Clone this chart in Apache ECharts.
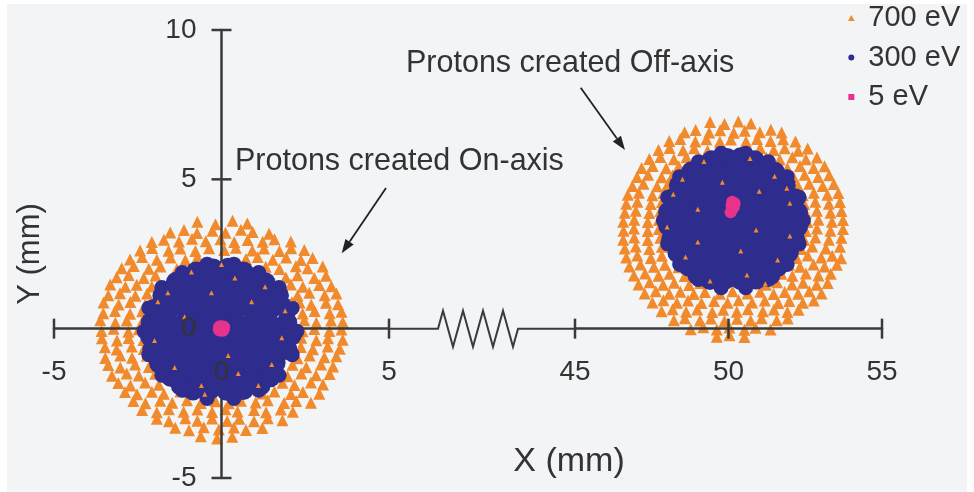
<!DOCTYPE html>
<html><head><meta charset="utf-8">
<script src="https://cdn.jsdelivr.net/npm/echarts@6/dist/echarts.min.js"></script>
<style>html,body{margin:0;padding:0;background:#fff}#c{width:974px;height:492px}</style>
</head><body><div id="c"></div>
<script>
// ---- tick values ----
const xTicksLeft = [-5, 0, 5];
const xTicksRight = [45, 50, 55];
const yTicks = [-5, 0, 5, 10];
const legendNames = ['700 eV', '300 eV', '5 eV'];

// ---- On-axis cluster (mm) ----
const onAxis700 = [
[-0.72,3.58],[-0.18,3.5],[0.33,3.61],[0.77,3.52],
[-1.53,3.22],[-1.12,3.3],[-0.73,3.2],[-0.27,3.28],[0.12,3.21],[0.58,3.31],[0.93,3.24],[1.42,3.18],
[-2.08,2.9],[-1.72,2.98],[-1.27,2.92],[-0.88,3.01],[-0.47,2.93],[-0.03,2.99],[0.38,2.9],[0.78,2.97],[1.23,2.91],[1.58,2.99],[2.07,2.92],
[-2.43,2.62],[-2.07,2.7],[-1.58,2.61],[-1.23,2.68],[-0.78,2.6],[-0.37,2.69],[0.08,2.63],[0.43,2.71],[0.92,2.62],[1.27,2.68],[1.73,2.6],[2.08,2.69],[2.47,2.63],
[-2.73,2.32],[-2.37,2.4],[-1.93,2.31],[-1.52,2.38],[-1.08,2.3],[-0.72,2.39],[0.73,2.33],[1.08,2.4],[1.53,2.31],[1.93,2.38],[2.37,2.3],[2.72,2.37],
[-2.98,2.02],[-2.62,2.1],[-2.17,2.01],[-1.82,2.08],[-1.33,2.0],[1.32,2.07],[1.73,2.0],[2.22,2.09],[2.57,2.02],[3.02,2.08],
[-3.13,1.72],[-2.77,1.8],[-2.32,1.7],[-1.97,1.78],[1.92,1.71],[2.27,1.79],[2.77,1.7],[3.12,1.77],
[-3.32,1.48],[-2.87,1.4],[-2.53,1.47],[-2.08,1.41],[2.07,1.48],[2.43,1.4],[2.92,1.46],[3.28,1.42],
[-3.38,1.12],[-3.03,1.19],[-2.57,1.1],[-2.22,1.18],[2.27,1.11],[2.62,1.2],[3.08,1.12],[3.43,1.18],
[-3.52,0.88],[-3.07,0.81],[-2.72,0.89],[-2.28,0.8],[2.33,0.88],[2.68,0.8],[3.12,0.87],[3.48,0.82],
[-3.53,0.52],[-3.18,0.59],[-2.73,0.5],[-2.37,0.58],[2.42,0.51],[2.78,0.59],[3.23,0.52],[3.58,0.57],
[-3.62,0.28],[-3.17,0.2],[-2.83,0.27],[-2.38,0.21],[2.47,0.28],[2.83,0.2],[3.27,0.27],[3.62,0.22],
[-3.58,-0.08],[-3.22,0.0],[-2.78,-0.1],[-2.47,-0.02],[2.42,-0.09],[2.77,-0.01],[3.22,-0.08],[3.58,-0.03],
[-3.57,-0.32],[-3.12,-0.4],[-2.77,-0.31],[-2.33,-0.38],[2.38,-0.3],[2.83,-0.39],[3.18,-0.32],[3.62,-0.37],
[-3.48,-0.62],[-3.13,-0.7],[-2.68,-0.6],[-2.32,-0.68],[2.37,-0.61],[2.73,-0.69],[3.17,-0.6],[3.53,-0.67],
[-3.47,-0.98],[-3.02,-0.9],[-2.67,-0.97],[-2.23,-0.91],[2.27,-0.99],[2.63,-0.9],[3.07,-0.96],[3.43,-0.92],
[-3.38,-1.22],[-3.02,-1.3],[-2.58,-1.2],[-2.17,-1.28],[2.12,-1.21],[2.53,-1.29],[2.97,-1.2],[3.33,-1.27],
[-3.27,-1.58],[-2.83,-1.5],[-2.47,-1.57],[-1.98,-1.51],[1.97,-1.59],[2.38,-1.5],[2.82,-1.56],[3.23,-1.52],
[-3.08,-1.82],[-2.72,-1.9],[-2.28,-1.8],[-1.87,-1.88],[1.82,-1.81],[2.18,-1.89],[2.67,-1.8],[3.03,-1.87],
[-2.88,-2.12],[-2.52,-2.2],[-2.08,-2.11],[-1.72,-2.18],[-1.23,-2.1],[1.22,-2.17],[1.58,-2.1],[2.07,-2.19],[2.43,-2.12],[2.92,-2.18],
[-2.63,-2.42],[-2.27,-2.5],[-1.83,-2.41],[-1.47,-2.48],[-1.03,-2.4],[-0.62,-2.49],[-0.18,-2.43],[0.22,-2.5],[0.58,-2.41],[1.02,-2.47],[1.38,-2.4],[1.87,-2.49],[2.23,-2.42],[2.67,-2.48],
[-2.37,-2.72],[-1.93,-2.8],[-1.57,-2.7],[-1.13,-2.78],[-0.72,-2.71],[-0.28,-2.79],[0.12,-2.7],[0.48,-2.77],[0.97,-2.72],[1.33,-2.8],[1.77,-2.71],[2.13,-2.78],
[-1.93,-3.02],[-1.57,-3.1],[-1.08,-3.0],[-0.72,-3.08],[-0.28,-3.01],[0.17,-3.09],[0.53,-3.02],[0.97,-3.1],[1.38,-3.0],[1.82,-3.07],
[-1.38,-3.32],[-0.97,-3.4],[-0.53,-3.3],[-0.08,-3.38],[0.37,-3.31],[0.73,-3.39],[1.22,-3.33],
[-0.62,-3.6],[-0.13,-3.68],[0.32,-3.62]
];
const onAxis700Inner = [
[-1.6,1.2],[-0.9,1.9],[0.4,1.7],[1.3,1.4],[1.9,0.6],[-2.0,-0.4],[-1.4,-1.3],[-0.6,-1.9],[0.5,-1.5],[1.5,-1.2],
[1.8,-0.3],[-1.1,0.4],[0.9,0.9],[-0.3,1.2],[0.2,-0.9],[-1.9,0.9],[2.1,1.0],[1.1,-1.9],[-0.5,-2.2],[0.0,2.15]
];
const onAxis300 = [
[-0.25,2.0],[0.2,2.02],[-0.75,1.9],[0.65,1.9],
[-1.35,1.55],[-0.9,1.57],[-0.45,1.54],[0.0,1.56],[0.45,1.55],[0.9,1.57],[1.3,1.54],
[-1.75,1.1],[-1.28,1.12],[-0.8,1.09],[-0.3,1.11],[0.2,1.1],[0.7,1.12],[1.2,1.09],[1.7,1.11],
[-2.0,0.65],[-1.55,0.67],[-1.05,0.64],[-0.55,0.66],[-0.05,0.65],[0.45,0.67],[0.95,0.64],[1.45,0.66],[1.95,0.65],
[-2.1,0.2],[-1.6,0.22],[-1.1,0.19],[-0.6,0.21],[-0.1,0.2],[0.4,0.22],[0.9,0.19],[1.4,0.21],[1.95,0.2],
[-2.12,-0.25],[-1.65,-0.23],[-1.15,-0.26],[-0.65,-0.24],[-0.15,-0.25],[0.35,-0.23],[0.85,-0.26],[1.35,-0.24],[1.85,-0.25],[2.08,-0.22],
[-2.05,-0.7],[-1.55,-0.68],[-1.05,-0.71],[-0.55,-0.69],[-0.05,-0.7],[0.45,-0.68],[0.95,-0.71],[1.45,-0.69],[1.95,-0.7],
[-1.85,-1.15],[-1.4,-1.13],[-0.9,-1.16],[-0.4,-1.14],[0.1,-1.15],[0.6,-1.13],[1.1,-1.16],[1.6,-1.14],
[-1.5,-1.6],[-1.05,-1.58],[-0.55,-1.61],[-0.05,-1.59],[0.45,-1.6],[0.95,-1.58],[1.45,-1.61],
[-1.2,-1.9],[1.15,-1.9],
[-0.85,-2.05],[-0.35,-2.03],[0.15,-2.06],[0.65,-2.04]
];
const onAxis300Rim = [
[2.25,-0.09],[2.11,0.69],[1.72,1.38],[1.11,1.88],[0.37,2.16],[-0.43,2.16],[-1.17,1.88],[-1.78,1.38],[-2.17,0.69],
[-2.31,-0.09],[-2.17,-0.87],[-1.78,-1.56],[-1.17,-2.06],[-0.43,-2.34],[0.37,-2.34],[1.11,-2.06],[1.72,-1.56],[2.11,-0.87]
];
const onAxis5 = [[-0.04,0.05],[0.05,0.04],[0.03,-0.04],[-0.05,-0.03]];

// ---- Off-axis cluster (mm) ----
const offAxis700 = [
[49.4,6.92],[49.87,6.85],[50.32,6.94],[50.73,6.87],
[48.57,6.58],[48.93,6.65],[49.37,6.57],[49.73,6.64],[50.17,6.56],[50.53,6.63],[51.02,6.58],[51.38,6.66],[51.73,6.57],
[48.07,6.28],[48.43,6.35],[48.92,6.27],[49.28,6.34],[49.72,6.26],[50.08,6.33],[50.57,6.27],[50.93,6.35],[51.37,6.28],[51.78,6.34],[52.18,6.27],
[47.72,5.98],[48.08,6.05],[48.52,5.97],[48.88,6.04],[49.32,5.96],[49.68,6.03],[50.67,5.97],[51.03,6.05],[51.47,5.98],[51.83,6.04],[52.27,5.96],[52.58,6.03],
[47.42,5.68],[47.78,5.75],[48.22,5.67],[48.63,5.74],[49.07,5.66],[51.23,5.73],[51.67,5.66],[52.08,5.74],[52.52,5.67],[52.88,5.73],
[47.17,5.38],[47.53,5.45],[47.97,5.37],[48.38,5.44],[51.92,5.37],[52.33,5.45],[52.77,5.38],[53.13,5.44],
[47.02,5.08],[47.38,5.15],[47.82,5.07],[48.18,5.14],[52.12,5.07],[52.48,5.15],[52.92,5.08],[53.28,5.14],
[46.87,4.78],[47.23,4.85],[47.67,4.77],[48.03,4.84],[52.27,4.77],[52.63,4.85],[53.07,4.78],[53.43,4.84],
[46.72,4.48],[47.08,4.55],[47.52,4.47],[47.88,4.54],[52.42,4.47],[52.78,4.55],[53.22,4.48],[53.58,4.54],
[46.67,4.18],[47.03,4.25],[47.47,4.17],[47.83,4.24],[52.47,4.17],[52.83,4.25],[53.27,4.18],[53.63,4.24],
[46.62,3.88],[46.98,3.95],[47.42,3.87],[47.78,3.94],[52.52,3.87],[52.88,3.95],[53.32,3.88],[53.68,3.94],
[46.57,3.58],[46.93,3.65],[47.37,3.57],[47.73,3.64],[52.57,3.57],[52.93,3.65],[53.37,3.58],[53.73,3.64],
[46.58,3.28],[46.92,3.35],[47.37,3.27],[47.73,3.34],[52.52,3.27],[52.88,3.35],[53.32,3.28],[53.73,3.34],
[46.57,2.98],[46.93,3.05],[47.37,2.97],[47.78,3.04],[52.47,2.97],[52.83,3.05],[53.27,2.98],[53.68,3.04],
[46.62,2.68],[46.98,2.75],[47.42,2.67],[47.83,2.74],[52.37,2.67],[52.73,2.75],[53.17,2.68],[53.63,2.74],
[46.67,2.38],[47.03,2.45],[47.47,2.37],[47.83,2.44],[52.22,2.37],[52.58,2.45],[53.02,2.38],[53.38,2.44],[53.67,2.36],
[46.77,2.08],[47.13,2.15],[47.57,2.07],[47.93,2.14],[48.37,2.06],[51.97,2.14],[52.33,2.07],[52.77,2.15],[53.13,2.08],[53.53,2.14],
[46.92,1.78],[47.28,1.85],[47.72,1.77],[48.08,1.84],[48.57,1.76],[51.72,1.84],[52.08,1.77],[52.52,1.85],[52.93,1.78],[53.33,1.84],
[47.07,1.48],[47.43,1.55],[47.87,1.47],[48.23,1.54],[48.72,1.46],[49.08,1.53],[51.22,1.47],[51.58,1.55],[52.07,1.48],[52.43,1.54],[52.87,1.47],[53.23,1.53],
[47.27,1.18],[47.63,1.25],[48.07,1.17],[48.43,1.24],[48.87,1.16],[49.23,1.23],[49.72,1.17],[50.13,1.25],[50.62,1.18],[51.03,1.24],[51.47,1.16],[51.83,1.23],[52.27,1.17],[52.63,1.25],[53.03,1.18],
[47.52,0.88],[47.88,0.95],[48.32,0.87],[48.68,0.94],[49.12,0.86],[49.53,0.93],[49.97,0.87],[50.33,0.95],[50.77,0.88],[51.18,0.94],[51.62,0.86],[51.98,0.93],[52.42,0.87],[52.78,0.94],
[47.82,0.58],[48.18,0.65],[48.62,0.57],[48.98,0.64],[49.47,0.56],[49.83,0.63],[50.27,0.57],[50.63,0.65],[51.12,0.58],[51.48,0.64],[51.92,0.56],[52.28,0.63],
[48.22,0.28],[48.58,0.35],[49.07,0.27],[49.43,0.34],[49.87,0.26],[50.28,0.33],[50.72,0.27],[51.08,0.35],[51.57,0.28],[51.93,0.34],
[48.77,-0.02],[49.18,0.05],[49.62,-0.03],[50.03,0.04],[50.52,-0.04],[50.88,0.03],[51.37,-0.03],
[49.62,-0.27],[50.03,-0.22],[50.52,-0.28]
];
const offAxis700Inner = [
[48.5,5.0],[49.2,5.6],[50.7,5.7],[51.5,5.1],[52.0,4.2],[48.0,3.4],[48.6,2.4],[49.4,1.6],[50.6,1.8],[51.6,2.3],
[52.0,3.1],[49.0,4.0],[51.0,4.6],[49.8,4.9],[50.4,2.6],[48.2,4.5],[51.9,4.7],[51.2,1.5],[49.0,2.9],[50.9,3.3]
];
const offAxis300 = [
[49.95,5.7],[50.4,5.72],[49.45,5.62],[50.85,5.62],
[48.8,5.25],[49.25,5.27],[49.7,5.24],[50.15,5.26],[50.6,5.25],[51.05,5.27],[51.5,5.24],
[48.4,4.8],[48.85,4.82],[49.35,4.79],[49.85,4.81],[50.35,4.8],[50.85,4.82],[51.35,4.79],[51.85,4.81],
[48.2,4.35],[48.7,4.37],[49.2,4.34],[49.7,4.36],[50.2,4.35],[50.7,4.37],[51.2,4.34],[51.7,4.36],[52.15,4.35],
[48.05,3.9],[48.55,3.92],[49.05,3.89],[49.55,3.91],[50.05,3.9],[50.55,3.92],[51.05,3.89],[51.55,3.91],[52.05,3.9],[52.25,3.88],
[48.05,3.45],[48.5,3.47],[49.0,3.44],[49.5,3.46],[50.0,3.45],[50.5,3.47],[51.0,3.44],[51.5,3.46],[52.0,3.45],[52.25,3.43],
[48.15,3.0],[48.65,3.02],[49.15,2.99],[49.65,3.01],[50.15,3.0],[50.65,3.02],[51.15,2.99],[51.65,3.01],[52.15,3.0],
[48.35,2.55],[48.85,2.57],[49.35,2.54],[49.85,2.56],[50.35,2.55],[50.85,2.57],[51.35,2.54],[51.95,2.56],
[48.7,2.1],[49.2,2.12],[49.7,2.09],[50.2,2.11],[50.7,2.1],[51.2,2.12],[51.6,2.09],
[49.0,1.8],[51.35,1.8],
[49.4,1.65],[49.9,1.67],[50.4,1.64],[50.9,1.66]
];
const offAxis300Rim = [
[52.44,3.62],[52.30,4.40],[51.91,5.09],[51.30,5.59],[50.56,5.87],[49.76,5.87],[49.02,5.59],[48.41,5.09],[48.02,4.40],
[47.88,3.62],[48.02,2.84],[48.41,2.15],[49.02,1.65],[49.76,1.37],[50.56,1.37],[51.30,1.65],[51.91,2.15],[52.30,2.84]
];
const offAxis5 = [[50.12,4.25],[50.2,4.2],[50.1,4.12],[50.18,4.08],[50.12,4.0],[50.07,3.9]];

// ---- styling / layout ----
const FONT = '"Liberation Sans", Arial, Helvetica, sans-serif';
const AX = '#3a3a3a';
const TXT = '#333333';
const ORANGE = '#f08a2c';
const BLUE = '#2e2d8e';
const PINK = '#e8338d';
const G0 = {left: 54, top: 30, width: 335, height: 448};
const G1 = {left: 575, top: 30, width: 307, height: 448};
const Y_MIN = -5, Y_MAX = 10;
const X0_MIN = -5, X0_MAX = 5;
// offsets so the axes sit on the zero lines
const xAxisOffset = -G0.height * (0 - Y_MIN) / (Y_MAX - Y_MIN);
const yAxisOffset = -G0.width * (0 - X0_MIN) / (X0_MAX - X0_MIN);

const chart = echarts.init(document.getElementById('c'), null, {renderer: 'canvas'});

function tickSeries(idx, values, horizontal) {
  return {
    type: 'custom', xAxisIndex: idx, yAxisIndex: idx, z: 3, silent: true, clip: false,
    data: values.map(v => horizontal ? [0, v] : [v, 0]),
    renderItem: function (params, api) {
      const p = api.coord([api.value(0), api.value(1)]);
      const h = 10;
      return {
        type: 'line',
        shape: horizontal ? {x1: p[0] - h, y1: p[1], x2: p[0] + h, y2: p[1]}
                          : {x1: p[0], y1: p[1] - h, x2: p[0], y2: p[1] + h},
        style: {stroke: AX, lineWidth: 2.5}
      };
    }
  };
}

const hideZero = v => (v === 0 ? '' : String(v));
const labelStyle = {fontSize: 28, color: TXT, fontFamily: FONT};
const lineStyle = {color: AX, width: 2.5};

function scatter(name, idx, data, symbol, size, color, z) {
  return {name, type: 'scatter', xAxisIndex: idx, yAxisIndex: idx, data, symbol, symbolSize: size,
    itemStyle: {color, opacity: 1}, z, silent: true, emphasis: {disabled: true}};
}

const option = {
  animation: false,
  backgroundColor: '#ffffff',
  textStyle: {fontFamily: FONT},
  grid: [
    Object.assign({containLabel: false, outerBoundsMode: 'none'}, G0),
    Object.assign({containLabel: false, outerBoundsMode: 'none'}, G1)
  ],
  xAxis: [
    {type: 'value', gridIndex: 0, min: X0_MIN, max: X0_MAX, interval: 5, z: 3,
     position: 'bottom', offset: xAxisOffset,
     axisLine: {onZero: false, lineStyle}, axisTick: {show: false}, splitLine: {show: false},
     axisLabel: Object.assign({margin: 30, formatter: hideZero}, labelStyle)},
    {type: 'value', gridIndex: 1, min: 45, max: 55, interval: 5, z: 3,
     position: 'bottom', offset: xAxisOffset,
     axisLine: {onZero: false, lineStyle}, axisTick: {show: false}, splitLine: {show: false},
     axisLabel: Object.assign({margin: 30}, labelStyle)}
  ],
  yAxis: [
    {type: 'value', gridIndex: 0, min: Y_MIN, max: Y_MAX, interval: 5, z: 3,
     position: 'left', offset: yAxisOffset,
     axisLine: {onZero: false, lineStyle}, axisTick: {show: false}, splitLine: {show: false},
     axisLabel: Object.assign({margin: 25, formatter: hideZero}, labelStyle),
     name: 'Y (mm)', nameLocation: 'middle', nameGap: 176,
     nameTextStyle: {fontSize: 31, color: TXT, fontFamily: FONT}},
    {type: 'value', gridIndex: 1, min: Y_MIN, max: Y_MAX, interval: 5, show: false}
  ],
  legend: {
    data: [
      {name: legendNames[0], icon: 'path://M5,0L10,9L0,9Z'},
      {name: legendNames[1], icon: 'path://M5,0A5,5,0,1,1,4.99,0Z'},
      {name: legendNames[2], icon: 'path://M0,0L10,0L10,10L0,10Z'}
    ],
    orient: 'vertical', left: 848, top: 3, padding: 0,
    itemWidth: 24, itemHeight: 6, itemGap: 9.5,
    symbolKeepAspect: true, selectedMode: false,
    textStyle: {fontSize: 29, lineHeight: 30, color: TXT, fontFamily: FONT}
  },
  series: [
    scatter(legendNames[0], 0, onAxis700, 'triangle', 12, ORANGE, 2),
    scatter(legendNames[0], 1, offAxis700, 'triangle', 12, ORANGE, 2),
    tickSeries(0, xTicksLeft, false),
    tickSeries(1, xTicksRight, false),
    tickSeries(0, yTicks, true),
    scatter(legendNames[1], 0, onAxis300, 'circle', 21, BLUE, 4),
    scatter(legendNames[1], 1, offAxis300, 'circle', 21, BLUE, 4),
    scatter(legendNames[1], 0, onAxis300Rim, 'circle', 15, BLUE, 4),
    scatter(legendNames[1], 1, offAxis300Rim, 'circle', 15, BLUE, 4),
    scatter(legendNames[0], 0, onAxis700Inner, 'triangle', 5, ORANGE, 5),
    scatter(legendNames[0], 1, offAxis700Inner, 'triangle', 5, ORANGE, 5),
    scatter(legendNames[2], 0, onAxis5, 'circle', 14, PINK, 6),
    scatter(legendNames[2], 1, offAxis5, 'circle', 12, PINK, 6)
  ]
};
chart.setOption(option);

// ---- decorations: panel, axis break, annotations ----
const o = chart.convertToPixel({gridIndex: 0}, [0, 0]);
const p5 = chart.convertToPixel({gridIndex: 0}, [5, 0]);
const p45 = chart.convertToPixel({gridIndex: 1}, [45, 0]);
const yb = p5[1], amp = 18;
const zz = [[p5[0], yb], [p5[0] + 49, yb]];
[0, 1, 2, 3].forEach(i => {
  const x0 = p5[0] + 54 + i * 20;
  zz.push([x0, yb - amp]);
  zz.push([x0 + 10, yb + amp]);
});
zz.push([p5[0] + 129, yb]);
zz.push([p45[0], yb]);

function arrow(start, tip) {
  const dx = tip[0] - start[0], dy = tip[1] - start[1];
  const L = Math.hypot(dx, dy), ux = dx / L, uy = dy / L;
  const hl = 14, hw = 5;
  const bx = tip[0] - hl * ux, by = tip[1] - hl * uy;
  return [
    {type: 'line', z: 8, silent: true, shape: {x1: start[0], y1: start[1], x2: bx, y2: by},
     style: {stroke: '#222', lineWidth: 1.8}},
    {type: 'polygon', z: 8, silent: true,
     shape: {points: [[tip[0], tip[1]], [bx + hw * uy, by - hw * ux], [bx - hw * uy, by + hw * ux]]},
     style: {fill: '#222'}}
  ];
}
function txt(text, x, y, size, align, valign, z) {
  return {type: 'text', x, y, z: z || 8, silent: true,
    style: {text, fill: TXT, font: size + 'px ' + FONT, fontSize: size, fontFamily: FONT,
            textAlign: align, align: align, textVerticalAlign: valign, verticalAlign: valign}};
}

chart.setOption({
  graphic: [
    {type: 'rect', z: -10, silent: true, shape: {x: 7, y: 4, width: 960, height: 488}, style: {fill: '#f3f4f6'}},
    {type: 'polyline', z: 3, silent: true, shape: {points: zz}, style: {stroke: AX, lineWidth: 2, fill: null}},
    txt('0', o[0] - 25, o[1], 28, 'right', 'middle', 10),
    txt('0', o[0], o[1] + 30, 28, 'center', 'top', 10),
    txt('Protons created On-axis', 235, 162, 30.5, 'left', 'middle'),
    txt('Protons created Off-axis', 406, 64, 30.5, 'left', 'middle'),
    txt('X (mm)', 569, 462, 34, 'center', 'middle'),
    ...arrow([386, 188], [341.7, 253.3]),
    ...arrow([580.7, 87.7], [625, 150])
  ]
});
</script>
</body></html>
